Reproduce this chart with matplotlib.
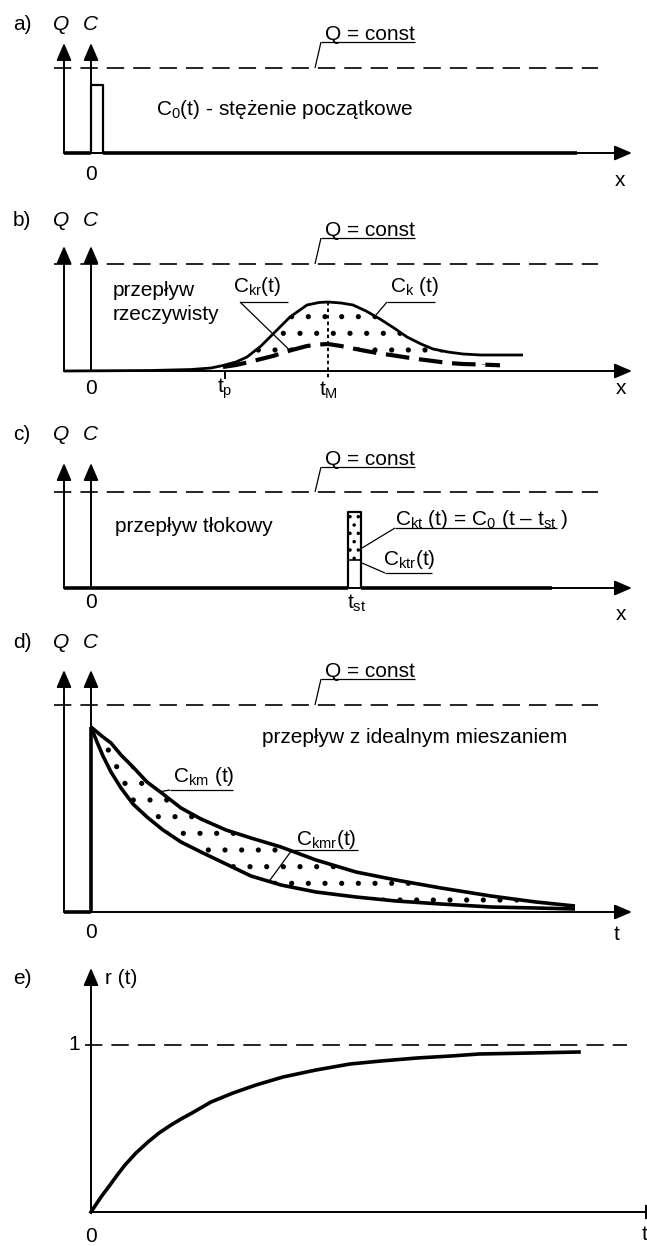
import numpy as np
import matplotlib.pyplot as plt

plt.rcParams['font.family'] = ['Liberation Sans', 'DejaVu Sans']
plt.rcParams['mathtext.fontset'] = 'custom'
plt.rcParams['mathtext.rm'] = 'Liberation Sans'
plt.rcParams['mathtext.it'] = 'Liberation Sans:italic'
plt.rcParams['lines.scale_dashes'] = False
plt.rcParams['hatch.linewidth'] = 1.3
plt.rcParams['hatch.color'] = 'black'

W, H = 647, 1246          # figure size in pixels
X0 = 91                   # C axis position, everything is measured from it
FS = 15

# a) initial pulse C0(t)
pulse_edges = [0, 12]
pulse_height = 68

# b) real flow: C_k(t) and C_kr(t)
b_x = [-27, 60, 100, 120, 132, 145, 156, 170, 182, 199, 216, 228, 237,
       250, 262, 275, 289, 303, 316, 330, 342, 357, 372, 390, 409, 432]
ck_b = [0, 0.5, 1.5, 3, 5.5, 9, 14, 25, 37, 54, 66, 68.5, 69,
        68, 66, 60, 52, 43, 34, 27, 22, 19, 17, 16, 16, 16]
ckr_b = [np.nan] * 4 + [4, 6, 8.5, 12, 15, 20.5, 25, 26.5, 27,
                        25, 22.5, 20, 17.5, 15.5, 13.5, 11.5, 10, 8, 7, 6.5, 5.7, np.nan]
t_p, t_M = 134, 237

# c) plug flow
plug_edges = [257, 270]
plug_height = 76
plug_real = 28

# d) ideal mixing: C_km(t) and C_kmr(t)
d_x = [0, 6, 12, 20, 30, 42, 56, 72, 90, 110, 135, 160, 190, 225,
       265, 305, 350, 400, 445, 484]
ckm_d = [185, 180, 175, 169, 157, 145, 130, 118, 104, 93, 82, 74, 65, 52,
         40, 32, 24, 16, 10, 6]
ckmr_d = [185, 170, 156, 140, 124, 108, 95, 82, 70, 60, 48, 36, 27, 20,
          15, 11, 8, 5, 4, 3]

# e) r(t)
e_x = [0, 10, 19, 27, 34, 45, 57, 68, 80, 90, 101, 120, 142, 165, 192,
       225, 259, 290, 326, 360, 388, 440, 488]
r_e = [0, 15, 27, 38, 47, 59, 70, 79, 87, 93, 99, 110, 119, 127, 135,
       142, 148, 151, 154, 156, 158, 159, 160]
r_one = 167

q_const = [85, 107, 96, 207]

fig = plt.figure(figsize=(W / 100, H / 100), dpi=100)


def panel(top, bottom, base):
    ax = fig.add_axes([0, 1 - bottom / H, 1, (bottom - top) / H])
    ax.set_xlim(-X0, W - X0)
    ax.set_ylim(base - bottom, base - top)
    ax.axis('off')
    return ax


def arrow(ax, x0, y0, x1, y1):
    ax.annotate('', xy=(x1, y1), xytext=(x0, y0), annotation_clip=False,
                arrowprops=dict(arrowstyle='-|>,head_length=1.05,head_width=0.45',
                                mutation_scale=10, lw=1.4, color='k',
                                shrinkA=0, shrinkB=0))


def line(ax, xs, ys, lw=1.4, **kw):
    ax.plot(xs, ys, color='k', lw=lw, clip_on=False, solid_capstyle='butt', **kw)


def dashed(ax, xs, ys):
    ax.plot(xs, ys, color='k', lw=1.2, dashes=(12.5, 6.5), clip_on=False)


def leader(ax, text, x, y, ux0, ux1, uy, tip):
    ax.text(x, y, text, ha='left', va='baseline', fontsize=FS)
    line(ax, [ux0, ux1], [uy, uy], lw=0.9)
    line(ax, [ux0, tip[0]], [uy, tip[1]], lw=0.9)


def header(ax, letter, lab, tip, q=None, q_text=None, xtip=541, axis_from=-27):
    ax.text(22 - X0, lab, letter, ha='center', va='center', fontsize=FS)
    if q is not None:
        ax.text(61 - X0, lab, 'Q', ha='center', va='center', fontsize=FS, style='italic')
        ax.text(90 - X0, lab, 'C', ha='center', va='center', fontsize=FS, style='italic')
        arrow(ax, -27, 0, -27, tip)
        dashed(ax, [-37, 507], [q, q])
        leader(ax, 'Q = const', 234, q_text + 2, 230, 324, q_text, (224, q))
    arrow(ax, 0, 0, 0, tip)
    arrow(ax, axis_from, 0, xtip, 0)


# a) ---------------------------------------------------------------
ax = panel(0, 190, 153)
header(ax, 'a)', 128, 110, q_const[0], 111)
line(ax, [-27, pulse_edges[0]], [0, 0], lw=2.6)
line(ax, [pulse_edges[1], 486], [0, 0], lw=2.6)
line(ax, [pulse_edges[0], pulse_edges[0], pulse_edges[1], pulse_edges[1]],
     [0, pulse_height, pulse_height, 0], lw=1.6)
ax.text(65, 38, r'C$_{\mathrm{0}}$(t) - stężenie początkowe', ha='left', va='baseline', fontsize=FS)
ax.text(0, -22, '0', ha='center', va='center', fontsize=FS)
ax.text(529, -27, 'x', ha='center', va='center', fontsize=FS)

# b) ---------------------------------------------------------------
ax = panel(190, 405, 371)
header(ax, 'b)', 151, 125, q_const[1], 133)
bx = np.array(b_x, float)
ck = np.array(ck_b, float)
ckr = np.array(ckr_b, float)
m = ~np.isnan(ckr)
ax.fill_between(bx[m], ckr[m], ck[m], facecolor='none', edgecolor='k',
                hatch='.', linewidth=0)
line(ax, bx, ck, lw=2.0)
ax.plot(bx[m], ckr[m], color='k', lw=3.0, dashes=(17, 7), clip_on=False)
line(ax, [t_M, t_M], [np.interp(t_M, bx, ck), -8], lw=1.4, dashes=(2.5, 2.2))
line(ax, [t_p, t_p], [0, -8], lw=1.4)
ax.text(22, 75, 'przepływ', ha='left', va='baseline', fontsize=FS)
ax.text(22, 51, 'rzeczywisty', ha='left', va='baseline', fontsize=FS)
leader(ax, r'C$_{\mathrm{kr}}$(t)', 142, 79, 149, 197, 69,
       (199, np.interp(199, bx[m], ckr[m])))
leader(ax, r'C$_{\mathrm{k}}$ (t)', 299, 79, 296, 344, 69,
       (284, np.interp(284, bx, ck)))
ax.text(0, -17, '0', ha='center', va='center', fontsize=FS)
ax.text(t_p, -18, r't$_{\mathrm{p}}$', ha='center', va='center', fontsize=FS)
ax.text(t_M, -19, r't$_{\mathrm{M}}$', ha='center', va='center', fontsize=FS)
ax.text(530, -17, 'x', ha='center', va='center', fontsize=FS)

# c) ---------------------------------------------------------------
ax = panel(405, 625, 588)
header(ax, 'c)', 153, 125, q_const[2], 121)
line(ax, [-27, plug_edges[0]], [0, 0], lw=2.6)
line(ax, [plug_edges[1], 461], [0, 0], lw=2.6)
ax.fill_between(plug_edges, [plug_real] * 2, [plug_height] * 2, facecolor='none',
                edgecolor='k', hatch='..', linewidth=0)
line(ax, [plug_edges[0], plug_edges[0], plug_edges[1], plug_edges[1]],
     [0, plug_height, plug_height, 0], lw=1.6)
line(ax, plug_edges, [plug_real] * 2, lw=1.2)
ax.text(24, 56, 'przepływ tłokowy', ha='left', va='baseline', fontsize=FS)
leader(ax, r'C$_{\mathrm{kt}}$ (t) = C$_{\mathrm{0}}$ (t – t$_{\mathrm{st}}$ )', 304, 63,
       304, 466, 60, (plug_edges[1] + 1, 40))
leader(ax, r'C$_{\mathrm{ktr}}$(t)', 292, 23, 294, 341, 15, (plug_edges[1] + 1, 25))
ax.text(0, -15, '0', ha='center', va='center', fontsize=FS)
ax.text(266, -15, r't$_{\mathrm{st}}$', ha='center', va='center', fontsize=FS)
ax.text(530, -27, 'x', ha='center', va='center', fontsize=FS)

# d) ---------------------------------------------------------------
ax = panel(625, 955, 912)
header(ax, 'd)', 269, 242, q_const[3], 233)
dx = np.array(d_x, float)
up = np.array(ckm_d, float)
lo = np.array(ckmr_d, float)
ax.fill_between(dx, lo, up, facecolor='none', edgecolor='k', hatch='.', linewidth=0)
line(ax, [-27, 0], [0, 0], lw=2.6)
line(ax, [0, 0], [0, up[0]], lw=2.6)
line(ax, dx, up, lw=2.6)
line(ax, dx, lo, lw=2.6)
ax.text(171, 169, 'przepływ z idealnym mieszaniem', ha='left', va='baseline', fontsize=FS)
leader(ax, r'C$_{\mathrm{km}}$ (t)', 82, 130, 79, 142, 122, (69, np.interp(69, dx, up)))
leader(ax, r'C$_{\mathrm{kmr}}$(t)', 205, 67, 201, 267, 62, (178, np.interp(178, dx, lo)))
ax.text(0, -20, '0', ha='center', va='center', fontsize=FS)
ax.text(526, -23, 't', ha='center', va='center', fontsize=FS)

# e) ---------------------------------------------------------------
ax = panel(955, 1246, 1212)
header(ax, 'e)', 234, 244, xtip=572, axis_from=0)
ax.text(14, 234, 'r (t)', ha='left', va='center', fontsize=FS)
dashed(ax, [-6, 536], [r_one, r_one])
ax.text(-11, r_one, '1', ha='right', va='center', fontsize=FS)
ax.plot(e_x, r_e, color='k', lw=2.6, clip_on=False, solid_joinstyle='round')
ax.text(0, -25, '0', ha='center', va='center', fontsize=FS)
ax.text(554, -23, 't', ha='center', va='center', fontsize=FS)

fig.savefig('out.png', dpi=100)
